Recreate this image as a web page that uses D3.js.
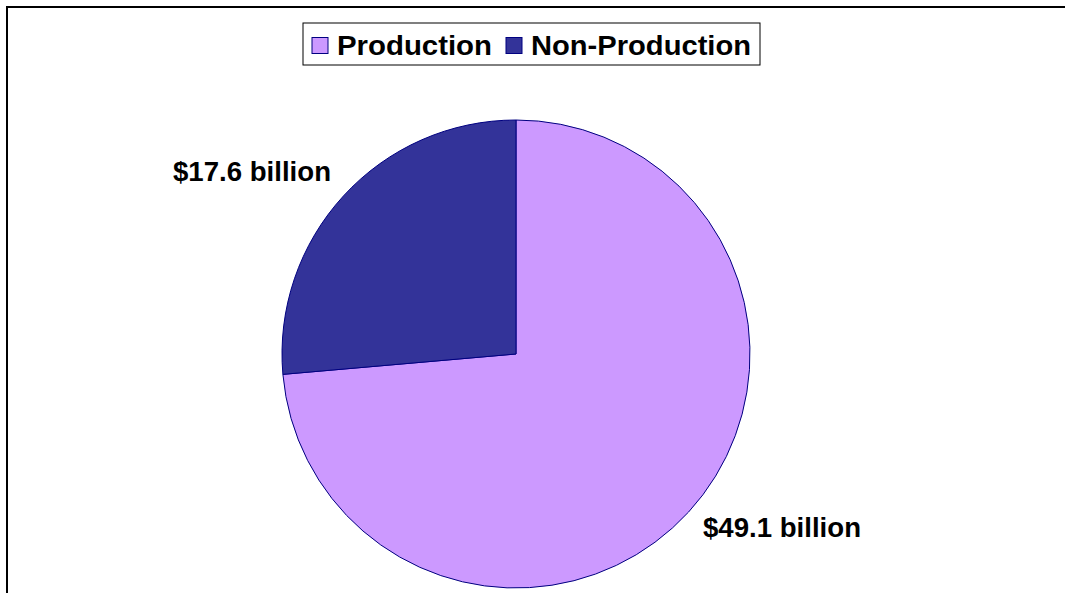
<!DOCTYPE html>
<html><head><meta charset="utf-8">
<script src="https://cdn.jsdelivr.net/npm/d3@7"></script>
<style>html,body{margin:0;padding:0;background:#fff;}</style>
</head><body>
<svg id="chart" width="1065" height="593"></svg>
<script>
const categories = ["Production", "Non-Production"];
const values = [49.1, 17.6];
const labels = ["$49.1 billion", "$17.6 billion"];
const colors = ["#CC99FF", "#333399"];

const svg = d3.select("#chart");
const font = "'Liberation Sans', Arial, sans-serif";

// outer frame (top and left visible)
svg.append("path").attr("d", "M7,593 L7,7 L1065,7")
  .attr("fill", "none").attr("stroke", "#000").attr("stroke-width", 2);

const cx = 516, cy = 354, r = 234;
const pie = d3.pie().sort(null).value(d => d)(values);
const arc = d3.arc().innerRadius(0).outerRadius(r);
const g = svg.append("g").attr("transform", `translate(${cx},${cy})`);
g.selectAll("path").data(pie).join("path")
  .attr("d", arc)
  .attr("fill", (d, i) => colors[i])
  .attr("stroke", "#000080").attr("stroke-width", 1);

// data labels
const labelPos = [[703, 537], [173, 181]];
svg.selectAll("text.lbl").data(labels).join("text")
  .attr("class", "lbl")
  .attr("x", (d, i) => labelPos[i][0]).attr("y", (d, i) => labelPos[i][1])
  .attr("font-family", font).attr("font-weight", "bold").attr("font-size", 27.5)
  .attr("textLength", 158).attr("lengthAdjust", "spacingAndGlyphs")
  .attr("fill", "#000").text(d => d);

// legend
const lg = svg.append("g");
lg.append("rect").attr("x", 303).attr("y", 23).attr("width", 457).attr("height", 42)
  .attr("fill", "#fff").attr("stroke", "#000").attr("stroke-width", 1);
const legX = [312, 506];
const textX = [337, 531];
const textW = [155, 220];
categories.forEach((c, i) => {
  lg.append("rect").attr("x", legX[i]).attr("y", 37.5).attr("width", 16).attr("height", 16)
    .attr("fill", colors[i]).attr("stroke", "#000080").attr("stroke-width", 1);
  lg.append("text").attr("x", textX[i]).attr("y", 54.5)
    .attr("font-family", font).attr("font-weight", "bold").attr("font-size", 27)
    .attr("textLength", textW[i]).attr("lengthAdjust", "spacingAndGlyphs")
    .attr("fill", "#000").text(c);
});
</script>
</body></html>
